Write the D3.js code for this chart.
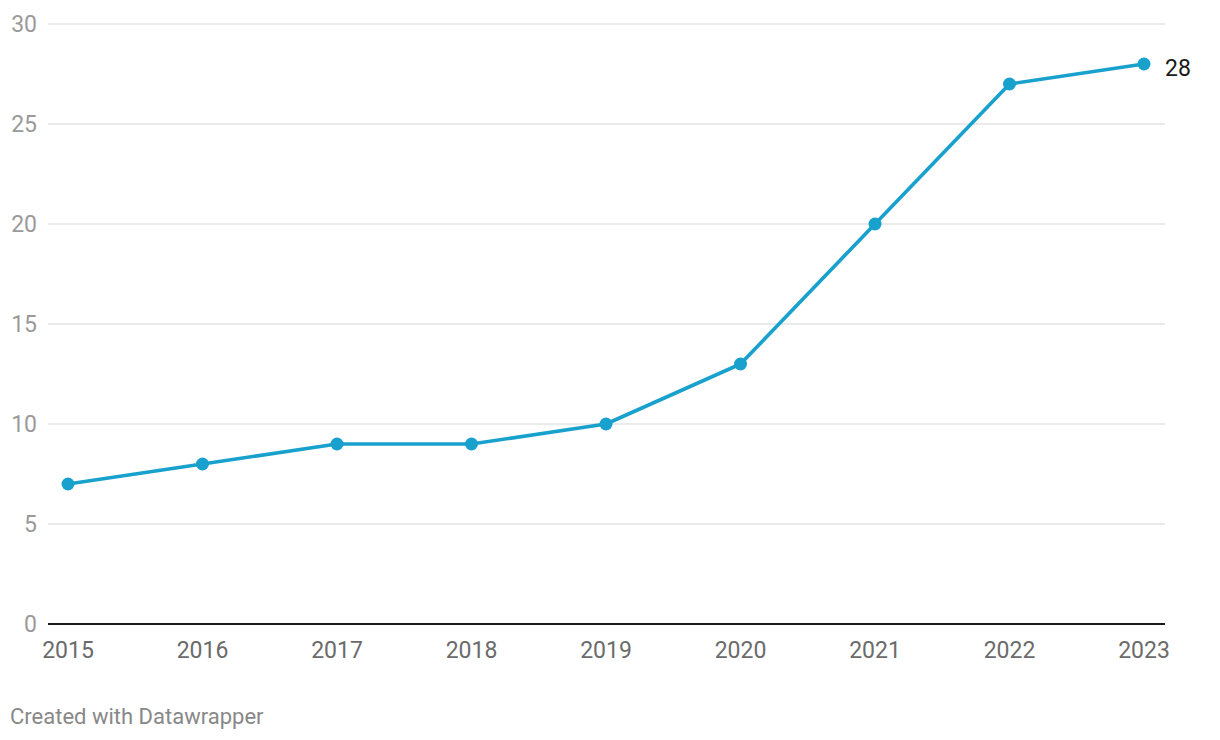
<!DOCTYPE html>
<html><head><meta charset="utf-8">
<script src="https://cdn.jsdelivr.net/npm/d3@7"></script>
<style>
body{margin:0;background:#fff;}
svg{display:block;font-family:Roboto,"Noto Sans",sans-serif;}
</style></head>
<body>
<svg id="c" width="1220" height="740"></svg>
<script>
const years = ["2015","2016","2017","2018","2019","2020","2021","2022","2023"];
const values = [7,8,9,9,10,13,20,27,28];
const yTicks = [0,5,10,15,20,25,30];

const svg = d3.select("#c");
const x = d3.scalePoint().domain(years).range([68,1144]);
const y = d3.scaleLinear().domain([0,30]).range([624,24]);
const gx0 = 48, gx1 = 1165;

// grid
svg.append("g").selectAll("line").data(yTicks.filter(d=>d>0)).join("line")
  .attr("x1",gx0).attr("x2",gx1).attr("y1",d=>y(d)).attr("y2",d=>y(d))
  .attr("stroke","#e3e3e3").attr("stroke-width",1.5);
// y labels
svg.append("g").selectAll("text").data(yTicks).join("text")
  .attr("x",37).attr("y",d=>y(d)).attr("dy","0.35em").attr("text-anchor","end")
  .attr("fill","#9a9a9a").attr("font-size",23).text(d=>d);
// baseline
svg.append("line").attr("x1",gx0).attr("x2",gx1).attr("y1",y(0)).attr("y2",y(0))
  .attr("stroke","#1a1a1a").attr("stroke-width",2);
// x labels
svg.append("g").selectAll("text").data(years).join("text")
  .attr("x",d=>x(d)).attr("y",658).attr("text-anchor","middle")
  .attr("fill","#6b6b6b").attr("font-size",23).text(d=>d);
// line
const data = years.map((yr,i)=>({yr,v:values[i]}));
svg.append("path").datum(data)
  .attr("d",d3.line().x(d=>x(d.yr)).y(d=>y(d.v)))
  .attr("fill","none").attr("stroke","#18a1cd").attr("stroke-width",3.6)
  .attr("stroke-linejoin","round");
svg.append("g").selectAll("circle").data(data).join("circle")
  .attr("cx",d=>x(d.yr)).attr("cy",d=>y(d.v)).attr("r",6.5).attr("fill","#18a1cd");
// end label
const last = data[data.length-1];
svg.append("text").attr("x",x(last.yr)+21).attr("y",y(last.v)+4).attr("dy","0.35em")
  .attr("fill","#1a1a1a").attr("font-size",23).text(last.v);
// credit
svg.append("text").attr("x",10).attr("y",724).attr("fill","#888").attr("font-size",22)
  .text("Created with Datawrapper");
</script>
</body></html>
